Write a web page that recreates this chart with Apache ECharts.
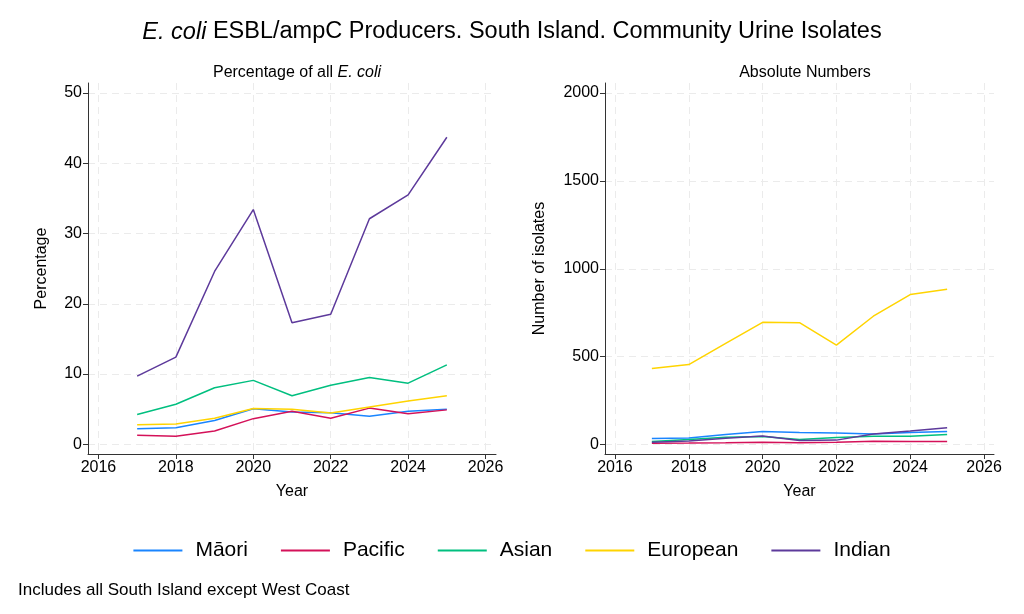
<!DOCTYPE html>
<html>
<head>
<meta charset="utf-8">
<script src="https://cdn.jsdelivr.net/npm/echarts@6/dist/echarts.min.js"></script>
<style>
html,body{margin:0;padding:0;background:#fff;}
#chart{width:1024px;height:614px;}
</style>
</head>
<body>
<div id="chart"></div>
<script>
// ---- data ----
var years = [2017, 2018, 2019, 2020, 2021, 2022, 2023, 2024, 2025];
var groups = ['Māori', 'Pacific', 'Asian', 'European', 'Indian'];
var groupColors = ['#1A85FF', '#D41159', '#00BF7F', '#FFD400', '#5D3A9B'];

var pctMaori    = [2.2, 2.35, 3.4, 5.05, 4.6, 4.5, 4.0, 4.7, 5.0];
var pctPacific  = [1.3, 1.15, 1.9, 3.65, 4.7, 3.7, 5.15, 4.35, 4.9];
var pctAsian    = [4.25, 5.7, 8.05, 9.1, 6.9, 8.4, 9.5, 8.7, 11.3];
var pctEuropean = [2.8, 2.9, 3.7, 5.1, 5.0, 4.45, 5.3, 6.15, 6.9];
var pctIndian   = [9.7, 12.4, 24.6, 33.4, 17.3, 18.5, 32.1, 35.5, 43.7];

var numMaori    = [34, 37, 57, 74, 68, 66, 60, 68, 74];
var numPacific  = [7, 8, 10, 13, 10, 13, 19, 17, 17];
var numAsian    = [17, 28, 41, 45, 28, 40, 47, 47, 57];
var numEuropean = [432, 455, 576, 695, 693, 565, 730, 853, 883];
var numIndian   = [13, 20, 36, 49, 23, 25, 60, 77, 96];

var xTicks = [2016, 2018, 2020, 2022, 2024, 2026];
var pctTicks = [0, 10, 20, 30, 40, 50];
var numTicks = [0, 500, 1000, 1500, 2000];

var pctData = [pctMaori, pctPacific, pctAsian, pctEuropean, pctIndian];
var numData = [numMaori, numPacific, numAsian, numEuropean, numIndian];

// ---- chart ----
var FONT = '"Liberation Sans", Arial, Helvetica, sans-serif';
function pairs(vals) { return years.map(function (y, i) { return [y, vals[i]]; }); }
function plain(v) { return String(v); }

var axisLineStyle = { color: '#333', width: 1 };
var gridLineStyle = { color: '#ebebeb', width: 1, type: [7, 5] };

function makeX(idx) {
  return {
    type: 'value', gridIndex: idx, min: 2015.73, max: 2026.27,
    name: 'Year', nameLocation: 'middle', nameGap: 30,
    nameTextStyle: { fontSize: 16, color: '#000', fontFamily: FONT },
    axisLine: { show: true, onZero: false, lineStyle: axisLineStyle },
    axisTick: { show: true, length: 5, lineStyle: axisLineStyle, customValues: xTicks },
    axisLabel: { customValues: xTicks, formatter: plain, fontSize: 16, color: '#000', fontFamily: FONT, margin: 6 },
    splitLine: { show: true, lineStyle: gridLineStyle }
  };
}
function makeY(idx, min, max, ticks, name, gap) {
  return {
    type: 'value', gridIndex: idx, min: min, max: max,
    name: name, nameLocation: 'middle', nameGap: gap,
    nameTextStyle: { fontSize: 16, color: '#000', fontFamily: FONT },
    axisLine: { show: true, onZero: false, lineStyle: axisLineStyle },
    axisTick: { show: true, length: 5, lineStyle: axisLineStyle, customValues: ticks },
    axisLabel: { customValues: ticks, formatter: plain, fontSize: 16, color: '#000', fontFamily: FONT, margin: 6 },
    splitLine: { show: true, lineStyle: gridLineStyle }
  };
}

var series = [];
groups.forEach(function (g, i) {
  series.push({
    name: g, type: 'line', xAxisIndex: 0, yAxisIndex: 0,
    data: pairs(pctData[i]), showSymbol: false, symbol: 'none',
    lineStyle: { color: groupColors[i], width: 1.5 }, itemStyle: { color: groupColors[i] },
    animation: false, z: 2 + i
  });
});
groups.forEach(function (g, i) {
  series.push({
    name: g, type: 'line', xAxisIndex: 1, yAxisIndex: 1,
    data: pairs(numData[i]), showSymbol: false, symbol: 'none',
    lineStyle: { color: groupColors[i], width: 1.5 }, itemStyle: { color: groupColors[i] },
    animation: false, z: 2 + i
  });
});

var option = {
  backgroundColor: '#fff',
  animation: false,
  textStyle: { fontFamily: FONT },
  title: [
    { text: '{i|E. coli} ESBL/ampC Producers. South Island. Community Urine Isolates',
      left: 'center', top: 15,
      textStyle: { fontSize: 23.5, fontWeight: 'normal', color: '#000', fontFamily: FONT,
        rich: { i: { fontStyle: 'italic', fontSize: 23.5, color: '#000', fontFamily: FONT } } } },
    { text: 'Percentage of all {i|E. coli}', left: 292, top: 60, textAlign: 'center',
      textStyle: { fontSize: 16, fontWeight: 'normal', color: '#000', fontFamily: FONT,
        rich: { i: { fontStyle: 'italic', fontSize: 16, color: '#000', fontFamily: FONT } } } },
    { text: 'Absolute Numbers', left: 800, top: 60, textAlign: 'center',
      textStyle: { fontSize: 16, fontWeight: 'normal', color: '#000', fontFamily: FONT } },
    { text: 'Includes all South Island except West Coast', left: 13, top: 577,
      textStyle: { fontSize: 17, fontWeight: 'normal', color: '#000', fontFamily: FONT } }
  ],
  legend: {
    data: groups, left: 'center', top: 535, icon: 'rect', itemWidth: 49, itemHeight: 2,
    itemGap: 33,
    textStyle: { fontSize: 21, color: '#000', fontFamily: FONT, padding: [0, 0, 0, 8] }
  },
  grid: [
    { left: 88, top: 83, width: 408, height: 371 },
    { left: 605, top: 83, width: 389, height: 371 }
  ],
  xAxis: [makeX(0), makeX(1)],
  yAxis: [
    makeY(0, -1.38, 51.42, pctTicks, 'Percentage', 38),
    makeY(1, -54, 2057, numTicks, 'Number of isolates', 57)
  ],
  series: series
};

var chart = echarts.init(document.getElementById('chart'), null, { renderer: 'canvas' });
chart.setOption(option);
</script>
</body>
</html>
